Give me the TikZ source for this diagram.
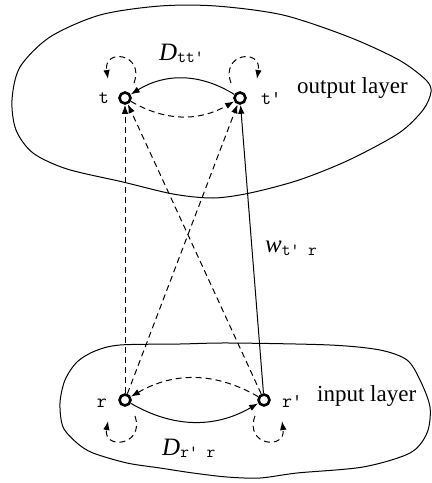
\documentclass[tikz,border=0pt]{standalone}
\usepackage{fontspec}
\setmainfont{Liberation Serif}
\usetikzlibrary{arrows.meta,calc}
\newcommand{\subtt}{\fontsize{17}{20}\selectfont\ttfamily}
\begin{document}
\begin{tikzpicture}[x=1pt,y=-1pt,
  neuron/.style={circle,draw,line width=2.6pt,minimum size=11pt,inner sep=0pt},
  conn/.style={line width=1pt,-{Latex[length=9pt,width=6.5pt]}},
  dconn/.style={conn,dash pattern=on 6pt off 4pt},
  blob/.style={line width=1pt},
  lbl/.style={inner sep=0pt,font=\fontsize{19.5}{22}\selectfont\ttfamily},
  layer/.style={inner sep=0pt,font=\fontsize{23}{27}\selectfont},
  mathlbl/.style={inner sep=0pt,font=\fontsize{25}{30}\selectfont}]
\useasboundingbox (0,0) rectangle (432,483);

% layer outlines
\draw[blob] plot[smooth cycle] coordinates {
  (12,100) (20,67) (50,37) (100,15) (160,6) (216,6) (283,15) (349,37)
  (399,60) (426,80) (431,92) (423,110) (399,133) (349,160) (299,180)
  (250,193) (213,198) (173,194) (123,182) (67,169) (33,153) (16,130)};
\draw[blob] plot[smooth cycle] coordinates {
  (120,345) (180,344) (230,343) (330,345) (380,350) (407,360) (420,380)
  (430,407) (427,433) (410,453) (363,467) (297,473) (260,478) (227,477)
  (193,473) (160,468) (127,463) (93,453) (77,443) (63,427) (60,403)
  (65,380) (77,362) (95,351)};

% units
\node[neuron] (t)  at (125,98) {};
\node[neuron] (tp) at (240,98) {};
\node[neuron] (r)  at (125,400) {};
\node[neuron] (rp) at (264,400) {};

% unit labels
\node[lbl,anchor=base] (tl) at (104,103) {t};
\node[lbl,anchor=base west] (tpl) at (261,104) {t'};
\node[lbl,anchor=base] (rl) at (102,407) {r};
\node[lbl,anchor=base west] (rpl) at (282,407) {r'};

% layer labels
\node[layer,anchor=base west] (outl) at (297,93) {output layer};
\node[layer,anchor=base west] (inl) at (317,401) {input layer};

% weight labels
\node[mathlbl,anchor=base west] (D1) at (159,60) {\textit{D}\raisebox{-2pt}{\subtt tt'}};
\node[mathlbl,anchor=base west] (D2) at (162,455) {\textit{D}\raisebox{-2pt}{\subtt r' r}};
\node[mathlbl,anchor=base west] (wl) at (265,252) {\textit{w}\raisebox{-3pt}{\subtt t' r}};

% feed-forward connections
\draw[dconn] (r) -- (t);
\draw[dconn] (rp) -- (t);
\draw[dconn] (r) -- (tp);
\draw[conn] (rp) -- (tp);

% lateral connections
\draw[dconn] (t) to[bend right=30] (tp);
\draw[conn] (tp) to[bend right=32] (t);
\draw[conn] (r) to[bend right=30] (rp);
\draw[dconn] (rp) to[bend right=30] (r);

% self loops
\draw[dconn] ($(t)+(9,-15)$) .. controls ($(t)+(20,-45)$) and ($(t)+(-22,-50)$) .. ($(t)+(-17,-19)$);
\draw[dconn] ($(tp)+(-9,-15)$) .. controls ($(tp)+(-20,-45)$) and ($(tp)+(22,-50)$) .. ($(tp)+(17,-19)$);
\draw[dconn] ($(r)+(10,16)$) .. controls ($(r)+(20,46)$) and ($(r)+(-22,50)$) .. ($(r)+(-17,21)$);
\draw[dconn] ($(rp)+(-9,16)$) .. controls ($(rp)+(-20,46)$) and ($(rp)+(22,50)$) .. ($(rp)+(18,21)$);
\end{tikzpicture}
\end{document}
